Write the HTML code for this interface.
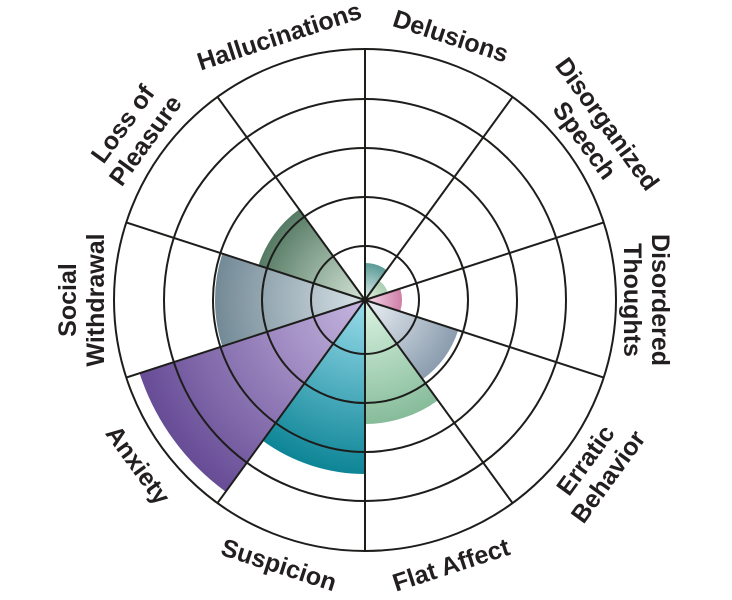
<!DOCTYPE html>
<html><head><meta charset="utf-8"><style>
html,body{margin:0;padding:0;background:#fff;width:732px;height:600px;overflow:hidden}
svg text{font-family:"Liberation Sans",sans-serif;font-weight:bold;font-size:25px;fill:#231f20}
</style></head><body>
<svg id="s" width="732" height="600" viewBox="0 0 732 600" xmlns="http://www.w3.org/2000/svg">
<defs id="d"></defs>
<g id="sec"></g>
<g id="grid" fill="none" stroke="#1d1d1b" stroke-width="2"></g>
<g id="lab"></g>
</svg>
<script>
var cx=365,cy=300,NS="http://www.w3.org/2000/svg";
function pt(r,a){a=a*Math.PI/180;return [cx+r*Math.sin(a),cy-r*Math.cos(a)];}
var data=[
 [0,37,"#e0efec","#5a9a96"],
 [36,24,"#e6f2e0","#a8ceb0"],
 [72,37,"#f6dceb","#cf7fa8"],
 [108,98,"#eef2f6","#8a9cae"],
 [144,124,"#dcf4e4","#86bc9a"],
 [180,174,"#9adcec","#0d8596"],
 [216,237,"#c6b6e0","#674c96"],
 [252,150,"#d8e2e8","#738a96"],
 [288,112,"#d4e4d6","#557a64"],
];
var d=document.getElementById("d"),sec=document.getElementById("sec");
data.forEach(function(s,i){
 var g=document.createElementNS(NS,"radialGradient");
 g.setAttribute("id","g"+i);g.setAttribute("gradientUnits","userSpaceOnUse");
 g.setAttribute("cx",cx);g.setAttribute("cy",cy);g.setAttribute("r",s[1]);
 g.innerHTML='<stop offset="0" stop-color="'+s[2]+'"/><stop offset="1" stop-color="'+s[3]+'"/>';
 d.appendChild(g);
 var p1=pt(s[1],s[0]),p2=pt(s[1],s[0]+36);
 var p=document.createElementNS(NS,"path");
 p.setAttribute("d","M"+cx+","+cy+"L"+p1[0]+","+p1[1]+"A"+s[1]+","+s[1]+" 0 0 1 "+p2[0]+","+p2[1]+"Z");
 p.setAttribute("fill","url(#g"+i+")");
 sec.appendChild(p);
});
var grid=document.getElementById("grid"),h="";
[54,103,152,201,251].forEach(function(r){h+='<circle cx="'+cx+'" cy="'+cy+'" r="'+r+'"/>';});
for(var a=0;a<360;a+=36){var q=pt(251,a);h+='<line x1="'+cx+'" y1="'+cy+'" x2="'+q[0]+'" y2="'+q[1]+'"/>';}
grid.innerHTML=h;
var labs=[
 [-18,278,-18,["Hallucinations"]],
 [18,278,18,["Delusions"]],
 [54,286,54,["Disorganized","Speech"]],
 [90,282,90,["Disordered","Thoughts"]],
 [126,286,-54,["Erratic","Behavior"]],
 [162,278,-18,["Flat Affect"]],
 [198,278,18,["Suspicion"]],
 [234,280,54,["Anxiety"]],
 [270,284,-90,["Social","Withdrawal"]],
 [306,286,-54,["Loss of","Pleasure"]],
];
var lh="";
labs.forEach(function(l){
 var q=pt(l[1],l[0]);
 var n=l[3].length,t='<text text-anchor="middle" transform="translate('+q[0]+','+q[1]+') rotate('+l[2]+')">';
 l[3].forEach(function(s,k){var y=(k-(n-1)/2)*28+9;t+='<tspan x="0" y="'+y+'">'+s+'</tspan>';});
 lh+=t+'</text>';
});
document.getElementById("lab").innerHTML=lh;
</script>
</body></html>
